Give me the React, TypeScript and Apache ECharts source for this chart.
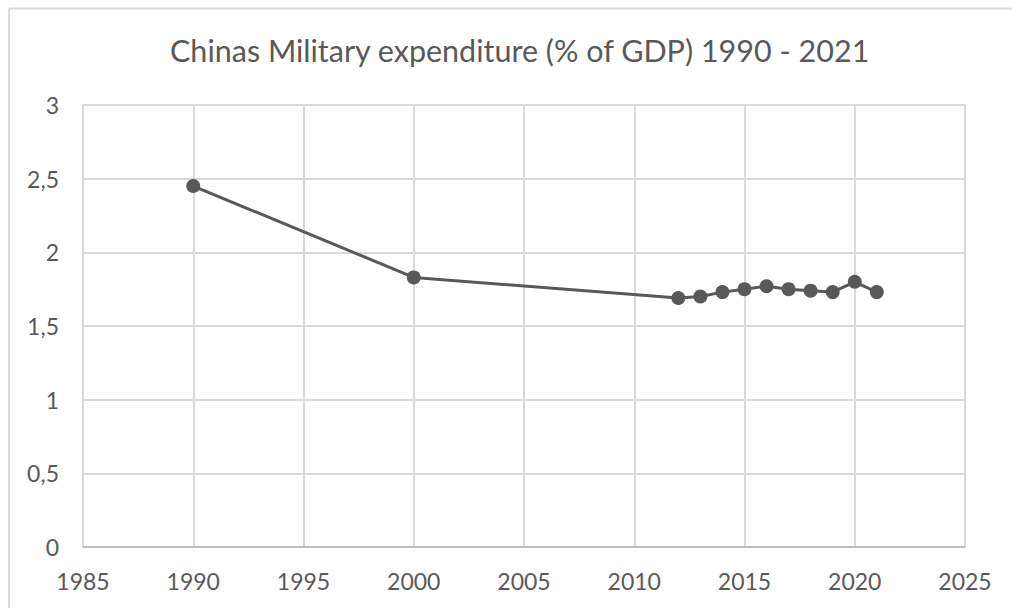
import React, { useEffect, useRef } from "react";
import * as echarts from "echarts";

const years = [1990, 2000, 2012, 2013, 2014, 2015, 2016, 2017, 2018, 2019, 2020, 2021];
const values = [2.45, 1.83, 1.69, 1.70, 1.73, 1.75, 1.77, 1.75, 1.74, 1.73, 1.80, 1.73];
const titleText = "Chinas Military expenditure (% of GDP) 1990 - 2021";

export default function App() {
  const ref = useRef<HTMLDivElement>(null);
  useEffect(() => {
    document.body.style.margin = "0";
    const chart = echarts.init(ref.current!, null, { renderer: "svg" });
    const font = "Lato, 'Open Sans', sans-serif";
    chart.setOption({
      animation: false,
      backgroundColor: "#ffffff",
      title: {
        text: titleText,
        left: 165,
        top: 29,
        textStyle: { fontFamily: font, fontSize: 30.5, fontWeight: "normal", color: "#595959" },
      },
      graphic: [
        { type: "line", shape: { x1: 9, y1: 8.5, x2: 1012, y2: 8.5 }, style: { stroke: "#d9d9d9", lineWidth: 2 } },
        { type: "line", shape: { x1: 9, y1: 8.5, x2: 9, y2: 608 }, style: { stroke: "#d9d9d9", lineWidth: 2 } },
      ],
      grid: { left: 83, right: 47, top: 105, bottom: 61, containLabel: false },
      xAxis: {
        type: "value",
        min: 1985,
        max: 2025,
        interval: 5,
        axisLine: { show: true, lineStyle: { color: "#bfbfbf", width: 2 } },
        axisTick: { show: false },
        splitLine: { show: true, lineStyle: { color: "#d9d9d9", width: 2 } },
        axisLabel: {
          fontFamily: font,
          fontSize: 23,
          color: "#595959",
          margin: 22,
          formatter: (v: number) => String(v),
        },
      },
      yAxis: {
        type: "value",
        min: 0,
        max: 3,
        interval: 0.5,
        axisLine: { show: false },
        axisTick: { show: false },
        splitLine: { show: true, lineStyle: { color: "#d9d9d9", width: 2 } },
        axisLabel: {
          fontFamily: font,
          fontSize: 23,
          color: "#595959",
          margin: 24,
          formatter: (v: number) => String(v).replace(".", ","),
        },
      },
      series: [
        {
          type: "line",
          data: years.map((y, i) => [y, values[i]]),
          symbol: "circle",
          symbolSize: 14,
          lineStyle: { color: "#595959", width: 3 },
          itemStyle: { color: "#595959" },
        },
      ],
    });
    return () => chart.dispose();
  }, []);
  return <div ref={ref} style={{ width: 1012, height: 608 }} />;
}
